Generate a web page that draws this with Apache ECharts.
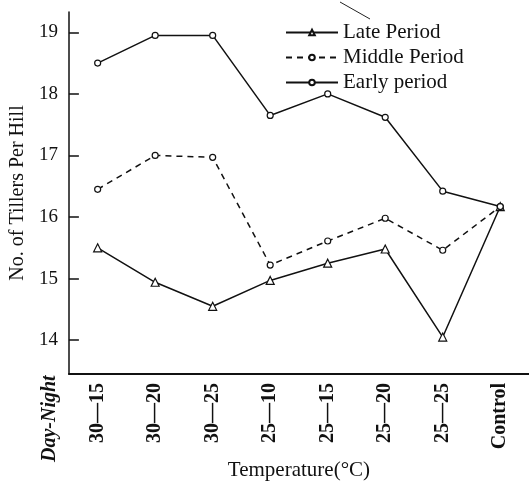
<!DOCTYPE html>
<html><head><meta charset="utf-8">
<script src="https://cdn.jsdelivr.net/npm/echarts@6/dist/echarts.min.js"></script>
<style>html,body{margin:0;padding:0;background:#fff}#c{width:529px;height:493px}</style>
</head><body><div id="c"></div>
<script>
var categories = ['30—15','30—20','30—25','25—10','25—15','25—20','25—25','Control'];
var latePeriod = [15.5, 14.94, 14.55, 14.97, 15.25, 15.48, 14.05, 16.17];
var middlePeriod = [16.45, 17.0, 16.97, 15.22, 15.61, 15.98, 15.46, 16.17];
var earlyPeriod = [18.5, 18.95, 18.95, 17.65, 18.0, 17.62, 16.42, 16.17];
var seriesNames = ['Late Period', 'Middle Period', 'Early period'];
var yTicks = [14, 15, 16, 17, 18, 19];

var serif = 'Liberation Serif';
var chart = echarts.init(document.getElementById('c'));
function mk(name, data, sym, dashed, size) {
  return {
    name: name, type: 'line', data: data, symbol: sym, symbolSize: size,
    itemStyle: {color: '#fff', borderColor: '#111', borderWidth: 1.2},
    lineStyle: {color: '#111', width: 1.5, type: dashed ? [6, 5] : 'solid'},
    emphasis: {disabled: true}, animation: false
  };
}
chart.setOption({
  animation: false,
  grid: {left: 68, top: 12, width: 462, bottom: 119},
  legend: {
    orient: 'vertical', left: 280, top: 17, itemWidth: 52, itemHeight: 7, itemGap: 4,
    textStyle: {fontFamily: serif, fontSize: 21, color: '#111'},
    data: seriesNames
  },
  xAxis: {
    type: 'category', data: categories, boundaryGap: true,
    axisLine: {lineStyle: {color: '#111', width: 1.8}},
    axisTick: {inside: true, length: 8, alignWithLabel: true, lineStyle: {color: '#111'}},
    axisLabel: {rotate: 90, interval: 0, fontFamily: serif, fontSize: 20, fontWeight: 'bold', color: '#111', margin: 9},
    name: 'Temperature(°C)', nameLocation: 'middle', nameGap: 86,
    nameTextStyle: {fontFamily: serif, fontSize: 21, color: '#111'}
  },
  yAxis: {
    type: 'value', min: 13.45, max: 19.33,
    axisLine: {show: true, lineStyle: {color: '#111', width: 1.5}},
    axisTick: {show: true, inside: true, length: 10, customValues: yTicks, lineStyle: {color: '#111', width: 1.5}},
    splitLine: {show: false},
    axisLabel: {fontFamily: serif, fontSize: 19, color: '#111', margin: 11, customValues: yTicks},
    name: 'No. of Tillers Per Hill', nameLocation: 'middle', nameGap: 37,
    nameTextStyle: {fontFamily: serif, fontSize: 20, color: '#111'}
  },
  graphic: [{
    type: 'text', x: 40, y: 462, rotation: Math.PI / 2,
    style: {text: 'Day-Night', font: 'bold italic 20px "Liberation Serif"', fill: '#111'}
  }, {
    type: 'line', shape: {x1: 340, y1: 2, x2: 370, y2: 19}, style: {stroke: '#222', lineWidth: 1}
  }],
  series: [
    mk(seriesNames[0], latePeriod, 'triangle', false, 8),
    mk(seriesNames[1], middlePeriod, 'circle', true, 6),
    mk(seriesNames[2], earlyPeriod, 'circle', false, 6)
  ]
});
</script></body></html>
